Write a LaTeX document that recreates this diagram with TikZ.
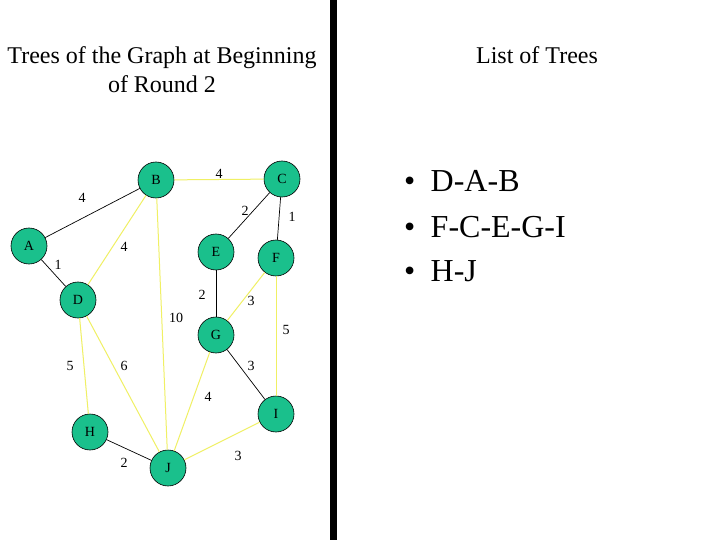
\documentclass[tikz,border=0pt]{standalone}
\usepackage{fontspec}
\setmainfont{Liberation Serif}
\definecolor{nodegreen}{RGB}{26,192,140}
\definecolor{edgeyellow}{RGB}{240,240,100}
\tikzset{
  vtx/.style={circle, draw=black, line width=0.6pt, fill=nodegreen, minimum size=36pt, inner sep=0pt, font=\fontsize{14}{16}\selectfont},
  blk/.style={draw=black, line width=0.7pt},
  ylw/.style={draw=edgeyellow, line width=1pt},
  wlab/.style={inner sep=0pt, font=\fontsize{14}{16}\selectfont},
  listitem/.style={anchor=base west, font=\fontsize{32}{45}\selectfont, inner sep=0pt},
}
\begin{document}
\begin{tikzpicture}[x=1pt, y=-1pt]
\useasboundingbox (0,0) rectangle (720,540);
\fill[white] (0,0) rectangle (720,540);
% divider bar
\fill[black] (330,0) rectangle (337,540);
% titles
\node[align=center, font=\fontsize{24}{29}\selectfont] (title) at (162,69.5) {Trees of the Graph at Beginning\\of Round 2};
\node[font=\fontsize{24}{29}\selectfont] (listtitle) at (537,55) {List of Trees};
% list
\node[listitem] (l1) at (404,191.5) {\textbullet\hspace{0.48em}D-A-B};
\node[listitem] (l2) at (404,237) {\textbullet\hspace{0.48em}F-C-E-G-I};
\node[listitem] (l3) at (404,281.5) {\textbullet\hspace{0.48em}H-J};
% vertices
\node[vtx] (A) at (29,246) {A};
\node[vtx] (B) at (156,180) {B};
\node[vtx] (C) at (282,179) {C};
\node[vtx] (D) at (78,300) {D};
\node[vtx] (E) at (216,252) {E};
\node[vtx] (F) at (276,258) {F};
\node[vtx] (G) at (216,335) {G};
\node[vtx] (H) at (90,432) {H};
\node[vtx] (I) at (276,414) {I};
\node[vtx] (J) at (168,468) {J};
% edges
\draw[ylw] (B) -- (C);
\draw[ylw] (B) -- (D);
\draw[ylw] (B) -- (J);
\draw[ylw] (F) -- (G);
\draw[ylw] (F) -- (I);
\draw[ylw] (D) -- (H);
\draw[ylw] (D) -- (J);
\draw[ylw] (G) -- (J);
\draw[ylw] (I) -- (J);
\draw[blk] (A) -- (B);
\draw[blk] (A) -- (D);
\draw[blk] (C) -- (E);
\draw[blk] (C) -- (F);
\draw[blk] (E) -- (G);
\draw[blk] (G) -- (I);
\draw[blk] (H) -- (J);
% weights
\node[wlab] (wAB) at (82,198) {4};
\node[wlab] (wBC) at (219,174) {4};
\node[wlab] (wBD) at (124,247) {4};
\node[wlab] (wBJ) at (176,318) {10};
\node[wlab] (wAD) at (58,265) {1};
\node[wlab] (wCE) at (245,211) {2};
\node[wlab] (wCF) at (292,217) {1};
\node[wlab] (wEG) at (202,295) {2};
\node[wlab] (wFG) at (251,301) {3};
\node[wlab] (wFI) at (286,330) {5};
\node[wlab] (wDH) at (70,366) {5};
\node[wlab] (wDJ) at (124,366) {6};
\node[wlab] (wGI) at (251,366) {3};
\node[wlab] (wGJ) at (208,397) {4};
\node[wlab] (wHJ) at (124,463) {2};
\node[wlab] (wIJ) at (238,456) {3};
\end{tikzpicture}
\end{document}
